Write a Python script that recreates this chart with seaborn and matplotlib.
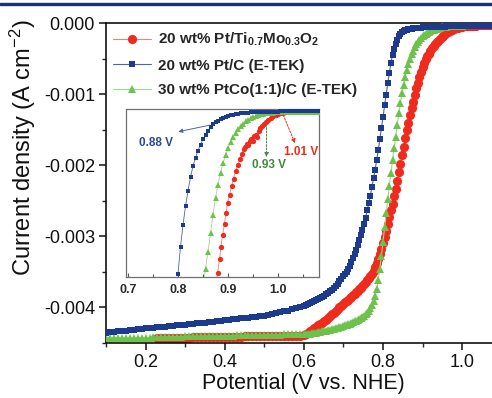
import numpy as np
import matplotlib
matplotlib.use("Agg")
import matplotlib.pyplot as plt
import seaborn as sns
from matplotlib.ticker import (MultipleLocator, FixedLocator,
                               FormatStrFormatter, NullLocator)
from matplotlib.patches import Rectangle

sns.set_theme(style="ticks")
plt.rcParams.update({
    "font.family": ["Liberation Sans", "DejaVu Sans"],
    "axes.unicode_minus": False,
    "mathtext.fontset": "custom",
    "mathtext.rm": "Liberation Sans",
    "mathtext.bf": "Liberation Sans:bold",
    "mathtext.it": "Liberation Sans:italic",
    "mathtext.sf": "Liberation Sans",
})

# ---------------- main LSV curves (current density in mA cm^-2) ----------------
# sampled potentials of the sweep, in four stretches
pot_a = np.arange(10, 60) / 100.0        # 0.10-0.59 V, 10 mV
pot_b = np.arange(120, 141) * 0.005      # 0.600-0.700 V, 5 mV
pot_c = np.arange(176, 241) * 0.004      # 0.704-0.960 V, 4 mV
pot_d = np.arange(193, 217) * 0.005      # 0.965-1.080 V, 5 mV
pot_red_a = np.arange(23, 60) / 100.0    # Pt/TiMoO2 record starts at 0.23 V

# 20 wt% Pt/C (E-TEK)
ptc_a = [
    -4.36, -4.355, -4.35, -4.345, -4.34, -4.335, -4.33, -4.32, -4.315, -4.31,
    -4.30, -4.295, -4.29, -4.285, -4.28, -4.275, -4.27, -4.265, -4.26, -4.255,
    -4.25, -4.245, -4.24, -4.23, -4.225, -4.22, -4.21, -4.205, -4.20, -4.195,
    -4.19, -4.18, -4.175, -4.17, -4.16, -4.155, -4.15, -4.14, -4.135, -4.125,
    -4.12, -4.11, -4.10, -4.09, -4.075, -4.06, -4.05, -4.03, -4.02, -4.00,
]
ptc_b = [
    -3.98, -3.97, -3.96, -3.945, -3.93, -3.92, -3.905, -3.89, -3.87, -3.855,
    -3.84, -3.82, -3.80, -3.78, -3.755, -3.73, -3.70, -3.67, -3.64, -3.61,
    -3.57,
]
ptc_c = [
    -3.54, -3.50, -3.46, -3.42, -3.37, -3.315, -3.26, -3.20, -3.13, -3.06,
    -2.99, -2.91, -2.83, -2.74, -2.64, -2.54, -2.43, -2.31, -2.19, -2.07,
    -1.93, -1.79, -1.64, -1.48, -1.32, -1.16, -1.01, -0.85, -0.70, -0.56,
    -0.45, -0.36, -0.29, -0.24, -0.19, -0.16, -0.13, -0.115, -0.103, -0.095,
    -0.089, -0.084, -0.08, -0.076, -0.073, -0.07, -0.068, -0.066, -0.064, -0.062,
    -0.06, -0.059, -0.058, -0.057, -0.056, -0.055, -0.054, -0.054, -0.053, -0.052,
    -0.051, -0.051, -0.05, -0.05, -0.049,
]
ptc_d = [
    -0.049, -0.048, -0.048, -0.047, -0.047, -0.046, -0.046, -0.045, -0.045, -0.045,
    -0.044, -0.044, -0.044, -0.043, -0.043, -0.043, -0.042, -0.042, -0.042, -0.041,
    -0.041, -0.041, -0.04, -0.04,
]

# 30 wt% PtCo(1:1)/C (E-TEK)
ptco_a = [
    -4.44, -4.44, -4.44, -4.44, -4.435, -4.435, -4.435, -4.435, -4.43, -4.43,
    -4.43, -4.43, -4.425, -4.425, -4.425, -4.425, -4.42, -4.42, -4.42, -4.42,
    -4.415, -4.415, -4.415, -4.415, -4.41, -4.41, -4.41, -4.41, -4.41, -4.405,
    -4.405, -4.405, -4.405, -4.40, -4.40, -4.40, -4.40, -4.40, -4.395, -4.395,
    -4.395, -4.395, -4.39, -4.39, -4.39, -4.385, -4.385, -4.38, -4.38, -4.375,
]
ptco_b = [
    -4.385, -4.38, -4.38, -4.375, -4.37, -4.365, -4.36, -4.355, -4.35, -4.345,
    -4.34, -4.335, -4.33, -4.32, -4.315, -4.305, -4.30, -4.29, -4.28, -4.275,
    -4.265,
]
ptco_c = [
    -4.257, -4.249, -4.241, -4.233, -4.225, -4.213, -4.204, -4.194, -4.182, -4.17,
    -4.154, -4.138, -4.122, -4.104, -4.08, -4.056, -4.02, -3.976, -3.922, -3.85,
    -3.75, -3.62, -3.46, -3.28, -3.08, -2.88, -2.68, -2.48, -2.29, -2.11,
    -1.93, -1.76, -1.60, -1.43, -1.27, -1.12, -0.99, -0.87, -0.76, -0.66,
    -0.58, -0.505, -0.44, -0.39, -0.34, -0.30, -0.265, -0.235, -0.21, -0.19,
    -0.17, -0.153, -0.138, -0.125, -0.113, -0.103, -0.094, -0.086, -0.079, -0.072,
    -0.066, -0.062, -0.058, -0.054, -0.05,
]
ptco_d = [
    -0.047, -0.044, -0.042, -0.04, -0.039, -0.038, -0.037, -0.036, -0.035, -0.035,
    -0.034, -0.034, -0.033, -0.033, -0.032, -0.032, -0.031, -0.031, -0.031, -0.03,
    -0.03, -0.03, -0.03, -0.03,
]

# 20 wt% Pt/Ti0.7Mo0.3O2
ptmo_a = [
    -4.435, -4.435, -4.435, -4.43, -4.43, -4.43, -4.43, -4.43, -4.43, -4.425,
    -4.425, -4.425, -4.425, -4.425, -4.42, -4.42, -4.42, -4.42, -4.42, -4.42,
    -4.42, -4.42, -4.415, -4.415, -4.415, -4.415, -4.415, -4.415, -4.415, -4.415,
    -4.415, -4.415, -4.415, -4.415, -4.415, -4.415, -4.41,
]
ptmo_b = [
    -4.40, -4.38, -4.36, -4.34, -4.32, -4.30, -4.28, -4.26, -4.24, -4.22,
    -4.20, -4.18, -4.155, -4.13, -4.105, -4.08, -4.055, -4.03, -4.005, -3.98,
    -3.955,
]
ptmo_c = [
    -3.935, -3.915, -3.895, -3.875, -3.855, -3.835, -3.81, -3.79, -3.77, -3.75,
    -3.726, -3.702, -3.678, -3.653, -3.625, -3.597, -3.566, -3.53, -3.49, -3.44,
    -3.384, -3.322, -3.254, -3.18, -3.10, -3.012, -2.924, -2.83, -2.736, -2.64,
    -2.544, -2.442, -2.334, -2.22, -2.10, -1.98, -1.86, -1.74, -1.62, -1.51,
    -1.406, -1.302, -1.202, -1.106, -1.01, -0.922, -0.84, -0.764, -0.692, -0.62,
    -0.562, -0.514, -0.47, -0.43, -0.39, -0.358, -0.326, -0.298, -0.274, -0.25,
    -0.226, -0.202, -0.18, -0.16, -0.145,
]
ptmo_d = [
    -0.125, -0.11, -0.095, -0.085, -0.075, -0.065, -0.058, -0.052, -0.048, -0.045,
    -0.042, -0.04, -0.038, -0.037, -0.036, -0.035, -0.034, -0.034, -0.033, -0.033,
    -0.032, -0.032, -0.032, -0.031,
]

# ---------------- inset: onset region (arbitrary current scale) ----------------
ptc_in_V = [
    0.800, 0.805, 0.810, 0.815, 0.820, 0.825, 0.830, 0.835, 0.840, 0.845,
    0.850, 0.855, 0.860, 0.865, 0.870, 0.875, 0.880, 0.885, 0.890, 0.895,
    0.900, 0.905, 0.910, 0.915, 0.920, 0.925, 0.930, 0.935, 0.940, 0.945,
    0.950, 0.955, 0.960, 0.965, 0.970, 0.975, 0.980, 0.985, 0.990, 0.995,
    1.000, 1.005, 1.010, 1.015, 1.020, 1.025, 1.030, 1.035, 1.040, 1.045,
    1.050, 1.055, 1.060, 1.065, 1.070, 1.075, 1.080,
]
ptc_in_j = [
    -0.49, -0.41, -0.345, -0.29, -0.243, -0.203, -0.17, -0.145, -0.124, -0.106,
    -0.09, -0.076, -0.064, -0.054, -0.046, -0.04, -0.035, -0.031, -0.027, -0.024,
    -0.021, -0.019, -0.017, -0.015, -0.014, -0.013, -0.012, -0.011, -0.0105, -0.01,
    -0.0095, -0.009, -0.009, -0.0085, -0.0085, -0.008, -0.008, -0.008, -0.0075, -0.0075,
    -0.0075, -0.007, -0.007, -0.007, -0.007, -0.007, -0.0065, -0.0065, -0.0065, -0.0065,
    -0.0065, -0.006, -0.006, -0.006, -0.006, -0.006, -0.006,
]
ptco_in_V = [
    0.850, 0.855, 0.860, 0.865, 0.870, 0.875, 0.880, 0.885, 0.890, 0.895,
    0.900, 0.905, 0.910, 0.915, 0.920, 0.925, 0.930, 0.935, 0.940, 0.945,
    0.950, 0.955, 0.960, 0.965, 0.970, 0.975, 0.980, 0.985, 0.990, 0.995,
    1.000, 1.005, 1.010, 1.015, 1.020, 1.025, 1.030, 1.035, 1.040, 1.045,
    1.050, 1.055, 1.060, 1.065, 1.070, 1.075, 1.080,
]
ptco_in_j = [
    -0.53, -0.475, -0.425, -0.37, -0.315, -0.265, -0.225, -0.19, -0.162, -0.138,
    -0.117, -0.098, -0.083, -0.07, -0.06, -0.051, -0.044, -0.037, -0.032, -0.027,
    -0.024, -0.021, -0.018, -0.016, -0.014, -0.013, -0.012, -0.011, -0.0105, -0.01,
    -0.01, -0.0095, -0.0095, -0.0095, -0.009, -0.009, -0.009, -0.009, -0.0085, -0.0085,
    -0.0085, -0.0085, -0.008, -0.008, -0.008, -0.008, -0.008,
]
ptmo_in_V = [
    0.875, 0.879, 0.883, 0.886, 0.889, 0.893, 0.896, 0.899, 0.903, 0.907,
    0.911, 0.915, 0.919, 0.923, 0.927, 0.931, 0.934, 0.937, 0.940, 0.943,
    0.946, 0.949, 0.952, 0.955, 0.958, 0.961, 0.964, 0.968, 0.972, 0.976,
    0.980, 0.985, 0.990, 0.995, 1.000, 1.005, 1.010, 1.015, 1.020, 1.025,
    1.030, 1.035, 1.040, 1.045, 1.050, 1.055, 1.060, 1.065, 1.070, 1.075,
    1.080,
]
ptmo_in_j = [
    -0.53, -0.489, -0.447, -0.41, -0.375, -0.342, -0.31, -0.281, -0.255, -0.23,
    -0.207, -0.186, -0.167, -0.15, -0.133, -0.118, -0.112, -0.104, -0.108, -0.094,
    -0.089, -0.096, -0.081, -0.076, -0.082, -0.066, -0.058, -0.052, -0.044, -0.038,
    -0.032, -0.026, -0.021, -0.017, -0.014, -0.012, -0.011, -0.01, -0.01, -0.0095,
    -0.0095, -0.009, -0.009, -0.009, -0.0085, -0.0085, -0.0085, -0.008, -0.008, -0.008,
    -0.008,
]

labels = [
    r"20 wt% Pt/Ti$_{\mathbf{0.7}}$Mo$_{\mathbf{0.3}}$O$_{\mathbf{2}}$",
    "20 wt% Pt/C (E-TEK)",
    "30 wt% PtCo(1:1)/C (E-TEK)",
]
onset_labels = ["0.88 V", "0.93 V", "1.01 V"]
x_ticks = [0.2, 0.4, 0.6, 0.8, 1.0]

RED, RED_LINE = "#ee2b1d", "#f2836f"
BLUE, BLUE_LINE = "#1c3b8e", "#4d66aa"
GREEN, GREEN_LINE = "#6cc24a", "#9fd98c"

fig = plt.figure(figsize=(4.92, 3.98), dpi=100)
ax = fig.add_axes([106 / 492, 55.5 / 398, 435.3 / 492, 319.5 / 398])


def draw(axis, x, y, line_c, mark_c, marker, ms, lw, label=None, z=2):
    sns.lineplot(x=np.asarray(x), y=np.asarray(y), ax=axis, color=line_c,
                 linewidth=lw, marker=marker, markersize=ms,
                 markerfacecolor=mark_c, markeredgecolor=mark_c,
                 markeredgewidth=0, estimator=None, sort=False,
                 label=label, zorder=z)
    return axis.get_lines()[-1]


pot_all = np.concatenate([pot_a, pot_b, pot_c, pot_d])
pot_red = np.concatenate([pot_red_a, pot_b, pot_c, pot_d])
h_red = draw(ax, pot_red, np.array(ptmo_a + ptmo_b + ptmo_c + ptmo_d) * 1e-3,
             RED_LINE, RED, "o", 6.6, 0.8, labels[0], 2)
h_green = draw(ax, pot_all, np.array(ptco_a + ptco_b + ptco_c + ptco_d) * 1e-3,
               GREEN_LINE, GREEN, "^", 5.6, 0.8, labels[2], 3)
h_blue = draw(ax, pot_all, np.array(ptc_a + ptc_b + ptc_c + ptc_d) * 1e-3,
              BLUE_LINE, BLUE, "s", 5.0, 0.8, labels[1], 4)

ax.set_xlim(0.1, 1.2)
ax.set_ylim(-0.0045, 0.0)
ax.xaxis.set_major_locator(FixedLocator(x_ticks))
ax.xaxis.set_minor_locator(FixedLocator([0.1, 0.3, 0.5, 0.7, 0.9, 1.1]))
ax.xaxis.set_major_formatter(FormatStrFormatter("%.1f"))
ax.yaxis.set_major_locator(MultipleLocator(0.001))
ax.yaxis.set_minor_locator(MultipleLocator(0.0005))
ax.yaxis.set_major_formatter(FormatStrFormatter("%.3f"))
ax.tick_params(which="major", direction="out", length=5, width=1.1,
               labelsize=13, colors="#111111", pad=3)
ax.tick_params(which="minor", direction="out", length=3, width=1.0)
ax.spines["right"].set_visible(False)
for s in ("left", "bottom", "top"):
    ax.spines[s].set_linewidth(1.2)
    ax.spines[s].set_color("#111111")

ax.set_xlabel("Potential (V vs. NHE)", fontsize=15.5, color="#111111")
ax.set_ylabel("Current density (A cm$^{-2}$)", fontsize=17, color="#111111")
ax.xaxis.set_label_coords(0.4526, -0.095)
ax.yaxis.set_label_coords(-0.156, 0.609)

leg = ax.legend(handles=[h_red, h_blue, h_green], labels=labels,
                loc="upper left", bbox_to_anchor=(0.015, 0.975),
                frameon=False, borderaxespad=0, borderpad=0,
                handlelength=2.5, handletextpad=0.5, labelspacing=0.68,
                numpoints=1, prop={"weight": "bold", "size": 11})

# ---------------- inset ----------------
axi = fig.add_axes([126 / 492, 121 / 398, 193 / 492, 168 / 398])
axi.set_facecolor("white")
draw(axi, ptmo_in_V, ptmo_in_j, RED_LINE, RED, "o", 3.8, 0.6, None, 2)
draw(axi, ptco_in_V, ptco_in_j, GREEN_LINE, GREEN, "^", 3.8, 0.6, None, 3)
draw(axi, ptc_in_V, ptc_in_j, BLUE_LINE, BLUE, "s", 3.3, 0.6, None, 4)
if axi.get_legend() is not None:
    axi.get_legend().remove()
axi.set_xlim(0.696, 1.082)
axi.set_ylim(-0.5, 0.0)
axi.xaxis.set_major_locator(MultipleLocator(0.1))
axi.xaxis.set_minor_locator(MultipleLocator(0.05))
axi.xaxis.set_major_formatter(FormatStrFormatter("%.1f"))
axi.yaxis.set_major_locator(NullLocator())
axi.yaxis.set_minor_locator(NullLocator())
axi.tick_params(axis="x", which="major", direction="in", length=3, width=0.8,
                labelsize=9, colors="#555555", labelcolor="#2a2a2a", pad=5)
axi.tick_params(axis="x", which="minor", direction="in", length=2, width=0.8,
                colors="#555555")
for lab in axi.get_xticklabels():
    lab.set_fontweight("bold")
for s in axi.spines.values():
    s.set_color("#707070")
    s.set_linewidth(0.9)
axi.set_xlabel("")
axi.set_ylabel("")

# onset markers
axi.annotate("", xy=(0.8007, -0.0675), xytext=(0.864, -0.048),
             arrowprops=dict(arrowstyle="-|>", color=BLUE_LINE, lw=0.7,
                             mutation_scale=6, shrinkA=0, shrinkB=0))
axi.text(0.7566, -0.100, onset_labels[0], color="#2b4a98", fontsize=8.5,
         fontweight="bold", ha="center", va="center")
axi.annotate("", xy=(0.977, -0.143), xytext=(0.977, -0.045),
             arrowprops=dict(arrowstyle="-|>", color="#3f8a3a", lw=0.7,
                             linestyle=(0, (2, 1.5)), mutation_scale=6,
                             shrinkA=0, shrinkB=0))
axi.text(0.982, -0.167, onset_labels[1], color="#3f8a3a", fontsize=8.5,
         fontweight="bold", ha="center", va="center")
axi.annotate("", xy=(1.034, -0.102), xytext=(1.0106, -0.018),
             arrowprops=dict(arrowstyle="-|>", color=RED, lw=0.7,
                             linestyle=(0, (2, 1.5)), mutation_scale=6,
                             shrinkA=0, shrinkB=0))
axi.text(1.0456, -0.128, onset_labels[2], color=RED, fontsize=8.5,
         fontweight="bold", ha="center", va="center")

# journal rule across the top
fig.add_artist(Rectangle((0, (398 - 4.8) / 398), 1, 2.2 / 398,
                         transform=fig.transFigure, color="#1f2d7b", zorder=10))

fig.savefig("out.png", dpi=100)
